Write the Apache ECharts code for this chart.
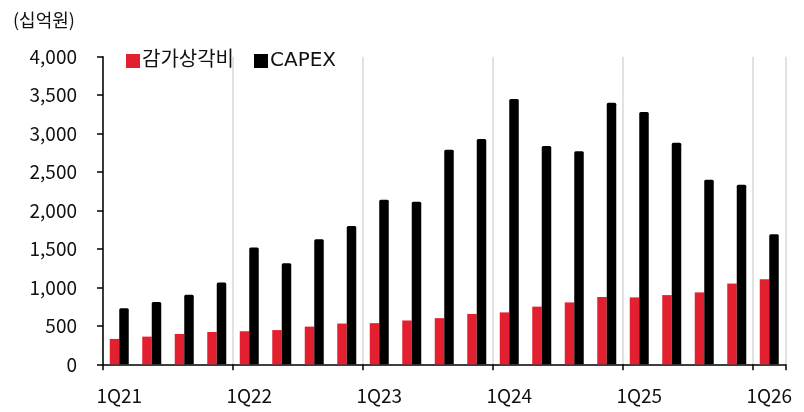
<!DOCTYPE html>
<html>
<head>
<meta charset="utf-8">
<script src="https://cdn.jsdelivr.net/npm/echarts@6/dist/echarts.min.js"></script>
<style>
  html, body { margin: 0; padding: 0; background: #ffffff; }
  #chart { width: 804px; height: 412px; }
</style>
</head>
<body>
<div id="chart"></div>
<script>
// Quarterly depreciation vs. CAPEX (unit: 십억원)
const quarters = [
  '1Q21', '2Q21', '3Q21', '4Q21',
  '1Q22', '2Q22', '3Q22', '4Q22',
  '1Q23', '2Q23', '3Q23', '4Q23',
  '1Q24', '2Q24', '3Q24', '4Q24',
  '1Q25', '2Q25', '3Q25', '4Q25',
  '1Q26'
];
const depreciation = [
  330, 360, 395, 420,
  430, 445, 490, 530,
  535, 570, 600, 655,
  675, 750, 805, 875,
  870, 900, 935, 1050,
  1105
];
const capex = [
  730, 810, 905, 1065,
  1520, 1315, 1625, 1800,
  2140, 2115, 2790, 2930,
  3450, 2840, 2770, 3400,
  3280, 2880, 2400, 2335,
  1690
];
const yTicks = { min: 0, max: 4000, step: 500 };

const FONT = "'Noto Sans CJK KR', 'Noto Sans', sans-serif";
const LEGEND_FONT = "'DejaVu Sans', 'Noto Sans CJK KR', sans-serif";
const RED = '#e3202f';
const BLACK = '#000000';

const chart = echarts.init(document.getElementById('chart'), null, { renderer: 'canvas' });

chart.setOption({
  animation: false,
  backgroundColor: '#ffffff',
  title: {
    text: '(십억원)',
    left: 8,
    top: 6,
    textStyle: { fontFamily: FONT, fontSize: 18, fontWeight: 'normal', color: '#111111' }
  },
  legend: {
    left: 121,
    top: 46,
    itemWidth: 14,
    itemHeight: 14,
    itemGap: 20,
    icon: 'rect',
    textStyle: { fontFamily: LEGEND_FONT, fontSize: 20, color: '#111111', padding: [0, 0, 0, -3] },
    data: ['감가상각비', 'CAPEX']
  },
  grid: { left: 103, right: 18.5, top: 56.7, bottom: 47.7, containLabel: false },
  xAxis: {
    type: 'category',
    data: quarters,
    boundaryGap: true,
    axisLine: { show: true, lineStyle: { color: '#000000', width: 1.5 } },
    axisTick: { show: true, interval: 3, length: 6, lineStyle: { color: '#000000', width: 1.5 } },
    axisLabel: {
      interval: 3,
      margin: 22,
      fontFamily: FONT,
      fontSize: 19,
      color: '#111111'
    },
    splitLine: { show: true, interval: 3, lineStyle: { color: '#d9d9d9', width: 1.5 } }
  },
  yAxis: {
    type: 'value',
    min: yTicks.min,
    max: yTicks.max,
    interval: yTicks.step,
    axisLine: { show: true, lineStyle: { color: '#000000', width: 1.5 } },
    axisTick: { show: true, length: 6, lineStyle: { color: '#000000', width: 1.5 } },
    splitLine: { show: false },
    axisLabel: {
      margin: 26,
      fontFamily: FONT,
      fontSize: 19,
      color: '#111111',
      formatter: v => v.toLocaleString('en-US')
    }
  },
  series: [
    {
      name: '감가상각비',
      type: 'bar',
      data: depreciation,
      barWidth: 9.5,
      barGap: '0%',
      itemStyle: { color: RED }
    },
    {
      name: 'CAPEX',
      type: 'bar',
      data: capex,
      barWidth: 9.5,
      barGap: '0%',
      itemStyle: { color: BLACK, borderRadius: [1.5, 1.5, 0, 0] }
    }
  ]
});
</script>
</body>
</html>
